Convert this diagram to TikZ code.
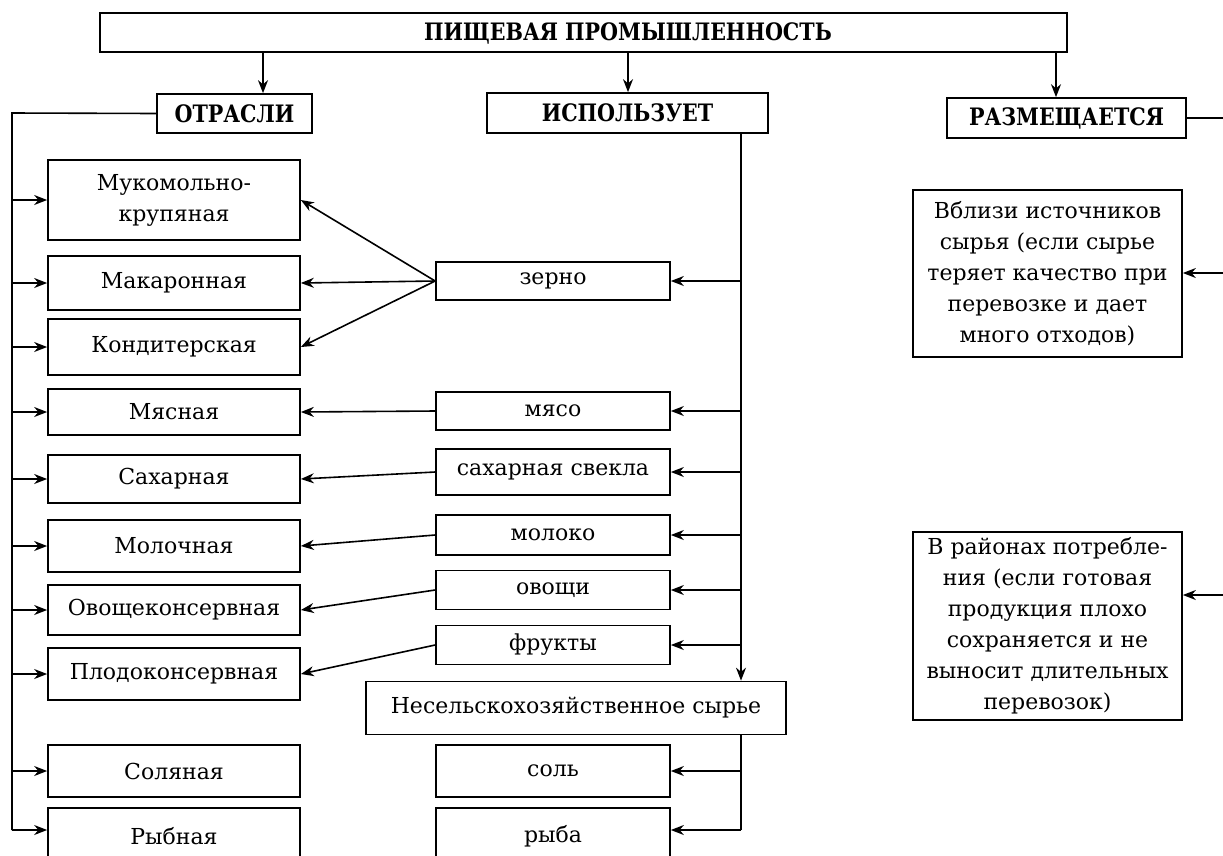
\documentclass[tikz,border=0pt]{standalone}
\usepackage{fontspec}
\setmainfont{DejaVu Serif}
\newfontfamily\hfont[FakeStretch=0.86]{DejaVu Serif Bold}
\usetikzlibrary{arrows.meta}
\begin{document}
\begin{tikzpicture}[x=1pt,y=-1pt,
  box/.style={draw, line width=1.7pt, inner sep=0pt, align=center, font=\fontsize{22}{31}\selectfont},
  hbox/.style={draw, line width=1.7pt, inner sep=0pt, font=\hfont\fontsize{24}{28}\selectfont},
  lbox/.style={box, minimum width=252, anchor=center},
  mbox/.style={box, minimum width=234, anchor=center},
  rbox/.style={box, minimum width=269},
  arr/.style={line width=1.6pt, -{Stealth[length=13pt,width=10pt]}},
  ln/.style={line width=1.6pt}]
\useasboundingbox[fill=white] (0,0) rectangle (1223,855);
\clip (0,0) rectangle (1223,855);
% headings
\node[draw, line width=1.7pt, minimum width=967, minimum height=39] (top) at (583.5,32.5) {};
\node[font=\hfont\fontsize{24}{28}\selectfont, inner sep=0pt] (toptxt) at (628,33) {ПИЩЕВАЯ ПРОМЫШЛЕННОСТЬ};
\node[hbox, minimum width=155, minimum height=39] (otr) at (234.5,113.5) {ОТРАСЛИ};
\node[hbox, minimum width=281, minimum height=40] (isp) at (627.5,113) {ИСПОЛЬЗУЕТ};
\node[hbox, minimum width=239, minimum height=40] (raz) at (1066.5,118) {РАЗМЕЩАЕТСЯ};
% left boxes
\node[lbox, minimum height=80] (muk) at (174,200) {Мукомольно-\\крупяная};
\node[lbox, minimum height=54] (mak) at (174,283) {Макаронная};
\node[lbox, minimum height=56] (kon) at (174,347) {Кондитерская};
\node[lbox, minimum height=46] (mya) at (174,412) {Мясная};
\node[lbox, minimum height=48] (sah) at (174,479) {Сахарная};
\node[lbox, minimum height=52] (mol) at (174,546) {Молочная};
\node[lbox, minimum height=50] (ovo) at (174,610) {Овощеконсервная};
\node[lbox, minimum height=52] (plo) at (174,674) {Плодоконсервная};
\node[lbox, minimum height=52] (sol) at (174,771) {Соляная};
\node[lbox, minimum height=56] (ryb) at (174,836) {Рыбная};
% middle boxes
\node[mbox, minimum height=38] (zer) at (553,281) {зерно};
\node[mbox, minimum height=38] (mys) at (553,411) {мясо};
\node[mbox, minimum height=46] (sv) at (553,472) {сахарная свекла};
\node[mbox, minimum height=40] (mlk) at (553,535) {молоко};
\node[mbox, minimum height=39] (ovs) at (553,590) {овощи};
\node[mbox, minimum height=39] (fr) at (553,645) {фрукты};
\node[box, minimum width=420, minimum height=53] (nes) at (576,708) {Несельскохозяйственное сырье};
\node[mbox, minimum height=52] (sl) at (553,771) {соль};
\node[mbox, minimum height=56] (rb) at (553,836) {рыба};
% right boxes
\node[rbox, minimum height=167] (vbl) at (1047.5,273.5) {Вблизи источников\\сырья (если сырье\\теряет качество при\\перевозке и дает\\много отходов)};
\node[rbox, minimum height=188] (vra) at (1047.5,626) {В районах потребле-\\ния (если готовая\\продукция плохо\\сохраняется и не\\выносит длительных\\перевозок)};
% coordinates
\coordinate (lx) at (12,113);
\coordinate (ly) at (12,830);
\coordinate (tr) at (741,0);
\coordinate (rx) at (1240,118);
\coordinate (r1) at (1240,273);
\coordinate (r2) at (1240,595);
\coordinate (bt) at (0,830);
\coordinate (a1) at (263,0);
\coordinate (a2) at (628,0);
\coordinate (a3) at (1056,0);
% top arrows
\draw[arr] (top.south -| a1) -- (otr.north -| a1);
\draw[arr] (top.south -| a2) -- (isp.north -| a2);
\draw[arr] (top.south -| a3) -- (raz.north -| a3);
% left trunk
\draw[ln] (otr.west) -- (lx) -- (ly);
\foreach \n in {muk,mak,kon,mya,sah,mol,ovo,plo,sol}
  \draw[arr] (lx |- \n.west) -- (\n.west);
\draw[arr] (ly) -- (ly -| ryb.west);
% zerno fan
\foreach \n in {muk,mak,kon}
  \draw[arr] (zer.west) -- (\n.east);
\draw[arr] (mys.west) -- (mya.east);
\draw[arr] (sv.west) -- (sah.east);
\draw[arr] (mlk.west) -- (mol.east);
\draw[arr] (ovs.west) -- (ovo.east);
\draw[arr] (fr.west) -- (plo.east);
% middle trunk
\draw[arr] (isp.south -| tr) -- (nes.north -| tr);
\foreach \n in {zer,mys,sv,mlk,ovs,fr}
  \draw[arr] (\n.east -| tr) -- (\n.east);
\draw[ln] (nes.south -| tr) -- (bt -| tr);
\draw[arr] (sl.east -| tr) -- (sl.east);
\draw[arr] (bt -| tr) -- (bt -| rb.east);
% right side
\draw[ln] (raz.east) -- (rx);
\draw[arr] (r1) -- (r1 -| vbl.east);
\draw[arr] (r2) -- (r2 -| vra.east);
\end{tikzpicture}
\end{document}
